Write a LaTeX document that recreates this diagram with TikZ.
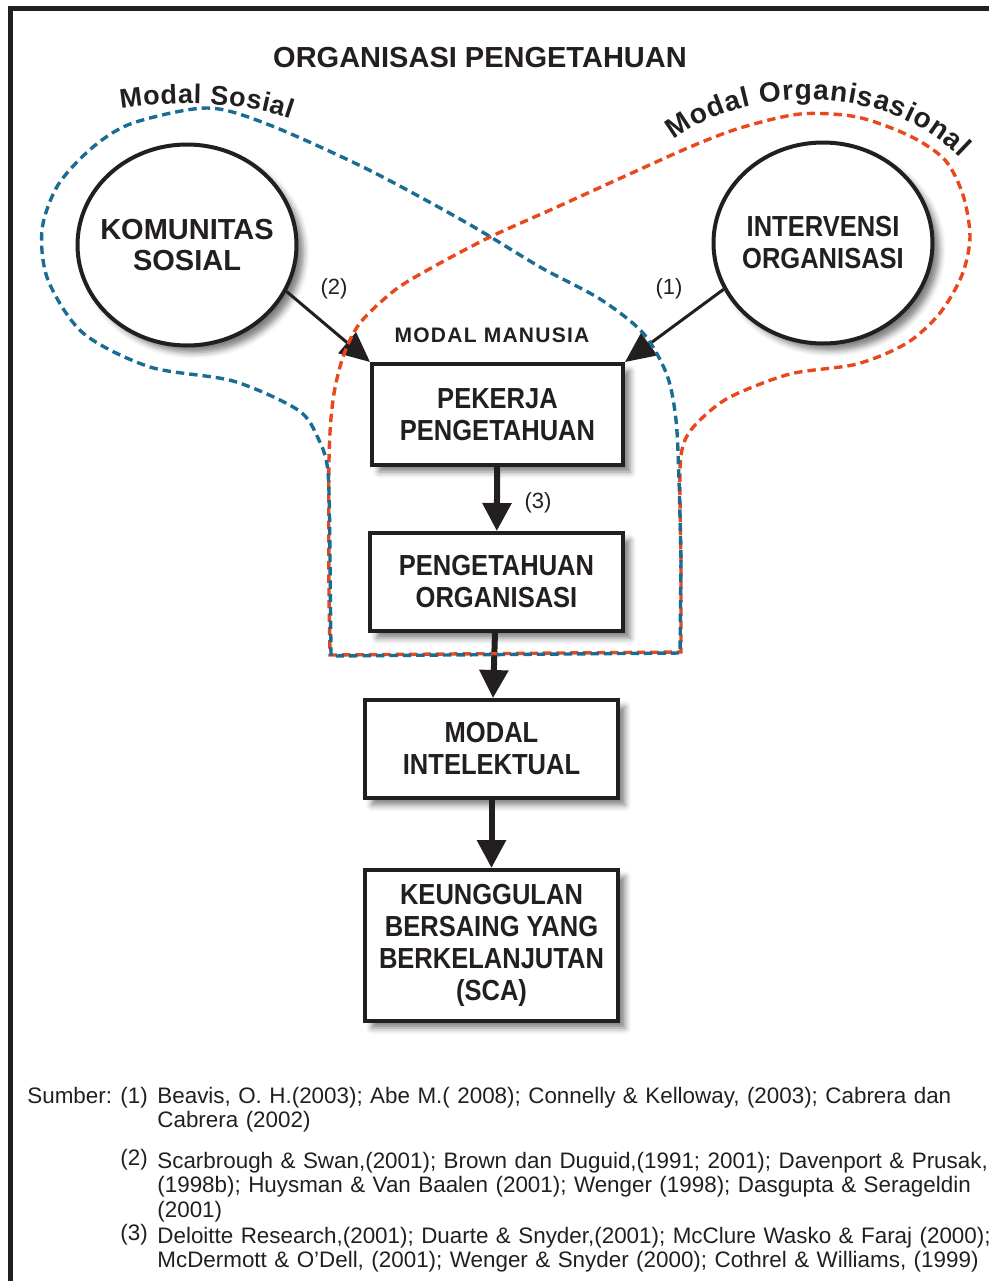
\documentclass[tikz,border=0pt]{standalone}
\usepackage{fontspec}
\setmainfont{Liberation Sans}
\newfontfamily\narrowfont[FakeStretch=0.88]{Liberation Sans}
\usepackage{tikz}
\usetikzlibrary{shapes.geometric,arrows.meta,shadows.blur,decorations.text}
\definecolor{ink}{HTML}{231F20}
\definecolor{birusosial}{HTML}{1A6C95}
\definecolor{oranyeorg}{HTML}{E8481C}

\begin{document}
\begin{tikzpicture}[x=0.5pt, y=-0.5pt,
        bayang/.style={blur shadow={shadow xshift=3.5pt, shadow yshift=-3.5pt, shadow blur radius=3pt, shadow opacity=50}},
        lingkaran/.style={ellipse, draw=ink, line width=2pt, fill=white, minimum width=109.5pt, minimum height=100.5pt, inner sep=-12pt, align=center, text=ink, bayang},
        kotak/.style={rectangle, draw=ink, line width=2pt, fill=white, inner sep=0pt, align=center, text=ink, font=\narrowfont\fontsize{14.5}{16}\selectfont\bfseries, bayang},
        panahtebal/.style={draw=ink, line width=3pt, -{Triangle[length=14pt, width=14pt]}},
        panahtipis/.style={draw=ink, line width=1.5pt, -{Triangle[length=15pt, width=13.5pt]}},
        garissosial/.style={draw=birusosial, line width=1.7pt, dash pattern=on 4.2pt off 2.5pt},
        garisorg/.style={draw=oranyeorg, line width=1.7pt, dash pattern=on 4.2pt off 2.5pt},
        nomor/.style={anchor=base west, inner sep=0pt, text=ink, font=\fontsize{11.2}{12.4}\selectfont},
        sumber/.style={nomor, align=left, text width=440pt}
    ]
        \useasboundingbox (0,0) rectangle (989,1281);
        % frame
        \draw[ink, line width=2.5pt] (10.5,1300) -- (10.5,8) -- (1000,8);

        \node[text=ink, font=\fontsize{14.5}{16}\selectfont\bfseries] (JUDUL) at (480,58) {ORGANISASI PENGETAHUAN};

        \node[lingkaran, font=\fontsize{14.5}{15.5}\selectfont\bfseries] (KS) at (187,245) {KOMUNITAS\\SOSIAL};
        \node[lingkaran, font=\narrowfont\fontsize{14.5}{16}\selectfont\bfseries] (IO) at (823,243) {INTERVENSI\\ORGANISASI};

        \node[text=ink, font=\fontsize{10.5}{12}\selectfont\bfseries\addfontfeature{LetterSpace=6}] (MM) at (492,335) {MODAL MANUSIA};

        \node[kotak, minimum width=125.5pt, minimum height=50.5pt] (PK) at (497.5,414.5) {PEKERJA\\PENGETAHUAN};
        \node[kotak, minimum width=126.5pt, minimum height=49pt] (PO) at (496.5,582) {PENGETAHUAN\\ORGANISASI};
        \node[kotak, minimum width=126.5pt, minimum height=49pt] (MI) at (491.5,749) {MODAL\\INTELEKTUAL};
        \node[kotak, minimum width=126.5pt, minimum height=75.5pt] (SCA) at (491.5,945.5) {KEUNGGULAN\\BERSAING YANG\\BERKELANJUTAN\\(SCA)};

        \draw[panahtipis] (KS.-25) to (PK.north west);
        \draw[panahtipis] (IO.205) to (PK.north east);
        \draw[panahtebal] (PK) to (PO);
        \draw[panahtebal] (PO) to (MI);
        \draw[panahtebal] (MI) to (SCA);

        \node[nomor, anchor=center, font=\fontsize{11}{13}\selectfont] (L2) at (334,289) {(2)};
        \node[nomor, anchor=center, font=\fontsize{11}{13}\selectfont] (L1) at (669,289) {(1)};
        \node[nomor, anchor=center, font=\fontsize{11}{13}\selectfont] (L3) at (538,503) {(3)};

        % modal organisasional
        \draw[garisorg] (329,600) -- (330,655) -- (681,652) -- (681,560) -- plot[smooth] coordinates {(681,560) (680,470) (685,440) (700,420) (730,397) (790,374) (857,364) (907,343) (940,313) (962,275) (970,237) (963,195) (945,160) (910,136) (857,117) (800,114) (740,128) (690,147) (623,177) (557,207) (490,237) (433,267) (395,290) (360,323) (343,357) (333,400) (329,460) (329,600)};
        % modal sosial
        \draw[garissosial] (681,560) -- (680,653) -- (331,656) -- (330,560) -- plot[smooth] coordinates {(330,560) (328,472) (318,438) (298,410) (233,381) (150,367) (83,333) (48,280) (42,230) (58,185) (93,147) (133,123) (207,108) (267,124) (367,169) (467,223) (540,267) (600,299) (643,333) (667,375) (676,420) (679,480) (681,560)};

        \path[decorate, decoration={text along path, text align=fit to path, text={|\color{ink}\fontsize{13.5}{14}\selectfont\bfseries|Modal Sosial}}] (121,109) .. controls (170,101) and (240,101) .. (291,119);
        \path[decorate, decoration={text along path, text align=fit to path, text={|\color{ink}\fontsize{14}{15}\selectfont\bfseries|Modal Organisasional}}] (674,140) .. controls (740,88) and (880,78) .. (960,158);

        \node[nomor] (SB) at (27,1103) {Sumber:};
        \node[nomor] (N1) at (120,1103) {(1)};
        \node[nomor] (N2) at (120,1165) {(2)};
        \node[nomor] (N3) at (120,1240) {(3)};
        \node[sumber] (R1) at (157,1103) {Beavis, O. H.(2003); Abe M.( 2008); Connelly \& Kelloway, (2003); Cabrera dan\\Cabrera (2002)};
        \node[sumber] (R2) at (157,1168) {Scarbrough \& Swan,(2001); Brown dan Duguid,(1991; 2001); Davenport \& Prusak,\\(1998b); Huysman \& Van Baalen (2001); Wenger (1998); Dasgupta \& Serageldin\\(2001)};
        \node[sumber] (R3) at (157,1243) {Deloitte Research,(2001); Duarte \& Snyder,(2001); McClure Wasko \& Faraj (2000);\\McDermott \& O'Dell, (2001); Wenger \& Snyder (2000); Cothrel \& Williams, (1999)};
    \end{tikzpicture}
\end{document}
